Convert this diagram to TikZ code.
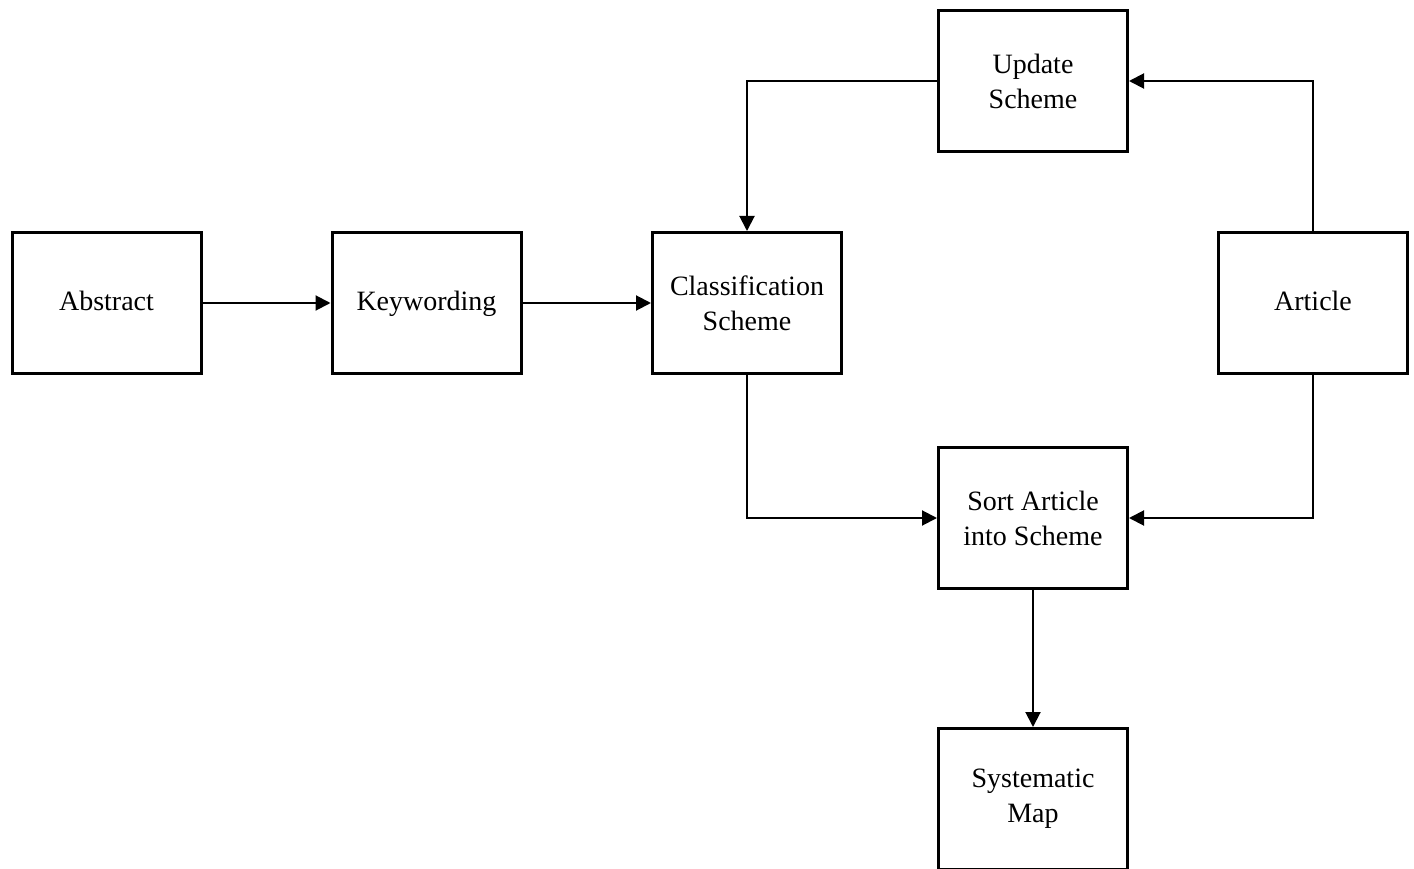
\documentclass[tikz,border=0pt]{standalone}
\usepackage{fontspec}
\setmainfont{Liberation Serif}
\usetikzlibrary{arrows.meta}
\begin{document}
\begin{tikzpicture}[x=1pt,y=-1pt,
  box/.style={draw=black,line width=3pt,minimum width=189pt,minimum height=141pt,
    align=center,inner sep=0pt,font=\fontsize{28}{35}\selectfont,fill=white},
  conn/.style={draw=black,line width=2pt,-{Triangle[length=15pt,width=15pt]}}]
\clip (0,0) rectangle (1414,869);
\fill[white] (0,0) rectangle (1414,869);
\node[box] (abs) at (106.5,303) {Abstract\strut};
\node[box] (key) at (426.5,303) {Keywording\strut};
\node[box] (cls) at (747,303) {Classification\\Scheme};
\node[box] (art) at (1313,303) {Article\strut};
\node[box] (upd) at (1033,81) {Update\\Scheme};
\node[box] (sort) at (1033,518) {Sort Article\\into Scheme};
\node[box] (map) at (1033,799) {Systematic\\Map};
\draw[conn] (abs) -- (key);
\draw[conn] (key) -- (cls);
\draw[conn] (upd.west) -| (cls.north);
\draw[conn] (art.north) |- (upd.east);
\draw[conn] (cls.south) |- (sort.west);
\draw[conn] (art.south) |- (sort.east);
\draw[conn] (sort) -- (map);
\end{tikzpicture}
\end{document}
